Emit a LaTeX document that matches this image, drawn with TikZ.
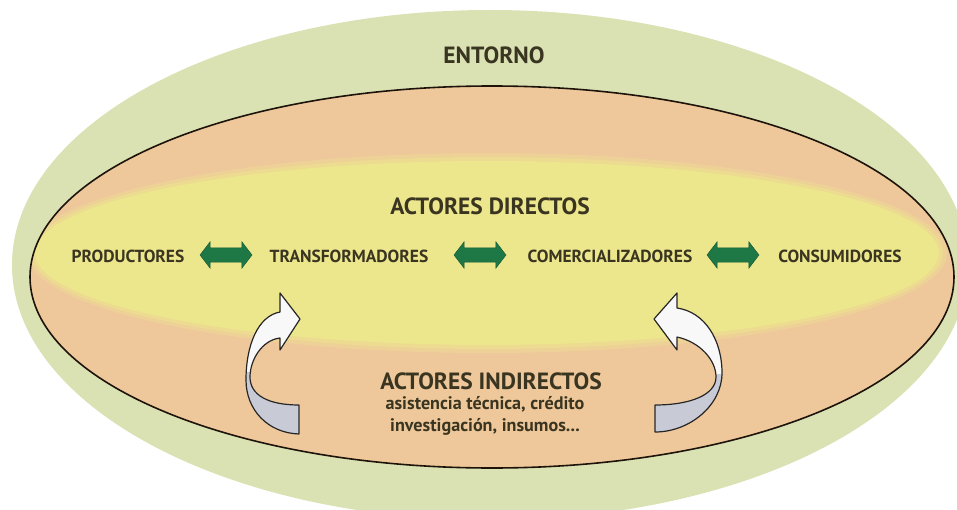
\documentclass[tikz,border=0pt]{standalone}
\usepackage{fontspec}
\setmainfont{PT Sans}
\usetikzlibrary{shapes.arrows}
\definecolor{envgreen}{HTML}{DAE2B4}
\definecolor{peach}{HTML}{EEC89B}
\definecolor{paleyellow}{HTML}{ECE68C}
\definecolor{txt}{HTML}{3A3520}
\definecolor{darkgreen}{HTML}{1E7846}
\definecolor{ribbongray}{HTML}{C8CAD6}
\definecolor{ribbonwhite}{HTML}{F8F8F8}
\tikzset{
  bigtitle/.style={text=txt, font=\bfseries\fontsize{17.6}{19}\selectfont, inner sep=0pt},
  rowlabel/.style={text=txt, font=\bfseries\fontsize{13.1}{14}\selectfont, inner sep=0pt},
  smalltext/.style={text=txt, font=\bfseries\fontsize{13.6}{16.5}\selectfont, align=center, inner sep=0pt},
  flowarrow/.style={double arrow, fill=darkgreen, draw=darkgreen!70!black, line width=0.3pt,
    minimum height=39pt, minimum width=0pt, inner xsep=0pt, inner ysep=5.2pt,
    double arrow head extend=4.6pt, double arrow tip angle=105},
  ribbon/.style={draw=black!85, line width=0.9pt, line join=round}
}
\newcommand{\leftribbon}{(299,405) -- (299,434) .. controls (268,433) and (246,410) .. (246,380) .. controls (246,345) and (258,316) .. (280,312) -- (280,293) -- (300,319) -- (280,350) -- (280,338) .. controls (262,340) and (250,360) .. (250,377) .. controls (250,395) and (268,405) .. (299,405) -- cycle}
\newcommand{\rightribbon}{(655,405) -- (655,432) .. controls (690,432) and (722,405) .. (722,373) .. controls (722,340) and (705,312) .. (677,308) -- (677,293) -- (654,319) -- (677,350) -- (677,337) .. controls (700,342) and (716,360) .. (716,377) .. controls (716,395) and (690,405) .. (655,405) -- cycle}
\begin{document}
\begin{tikzpicture}[x=0.75pt,y=-0.75pt]
\clip (0,0) rectangle (957,510);
\fill[white] (0,0) rectangle (957,510);
% outer environment ellipse
\fill[envgreen] (490,265) ellipse [x radius=478, y radius=255];
% actors ellipse
\fill[peach] (492,277) ellipse [x radius=462, y radius=191];
% soft yellow band
\begin{scope}
\clip (492,277) ellipse [x radius=462, y radius=191];
\fill[paleyellow, opacity=0.3] (487,253) ellipse [x radius=460, y radius=100];
\fill[paleyellow, opacity=0.5] (487,253) ellipse [x radius=456, y radius=96];
\fill[paleyellow] (487,253) ellipse [x radius=452, y radius=92];
\end{scope}
\draw[black!85!brown, line width=1.2pt] (492,277) ellipse [x radius=462, y radius=191];

% texts
\node[bigtitle] (entorno) at (494,55) {ENTORNO};
\node[bigtitle] (directos) at (490,206) {ACTORES DIRECTOS};
\node[rowlabel] (prod) at (128,256) {PRODUCTORES};
\node[rowlabel] (trans) at (349,256) {TRANSFORMADORES};
\node[rowlabel] (comer) at (610,256) {COMERCIALIZADORES};
\node[rowlabel] (cons) at (840,256) {CONSUMIDORES};
\node[flowarrow] (a1) at (226,255) {};
\node[flowarrow] (a2) at (480,255) {};
\node[flowarrow] (a3) at (733,255) {};
\node[bigtitle] (indirectos) at (491,381) {ACTORES INDIRECTOS};
\node[smalltext] (detalle) at (485,416) {asistencia técnica, crédito\\investigación, insumos...};

% twisted ribbon arrows
\fill[ribbonwhite] \leftribbon;
\begin{scope}
\clip (0,372) rectangle (957,510);
\fill[ribbongray] \leftribbon;
\end{scope}
\draw[ribbon] \leftribbon;
\fill[ribbonwhite] \rightribbon;
\begin{scope}
\clip (0,374) rectangle (957,510);
\fill[ribbongray] \rightribbon;
\end{scope}
\draw[ribbon] \rightribbon;
\end{tikzpicture}
\end{document}
